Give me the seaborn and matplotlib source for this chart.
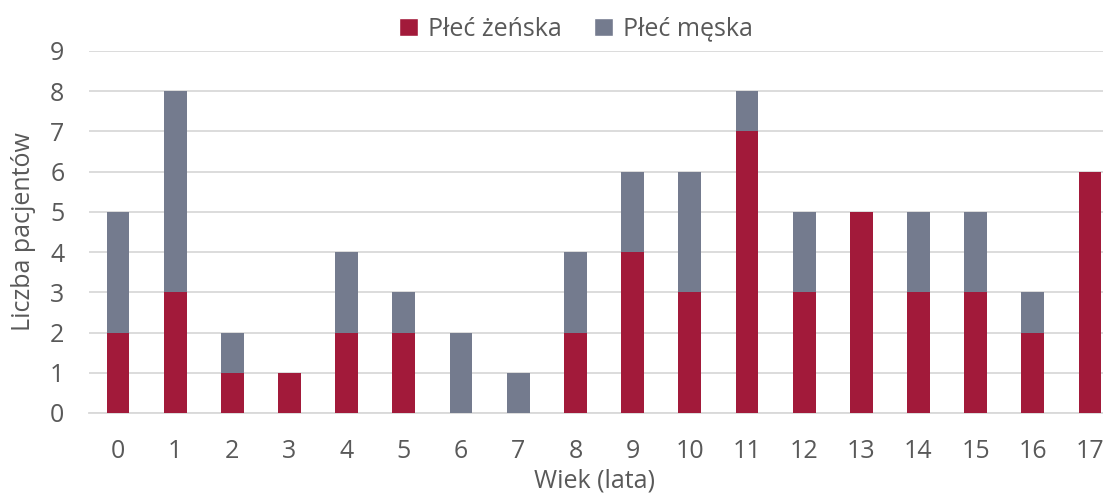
import matplotlib
matplotlib.use("Agg")
import matplotlib.pyplot as plt
import seaborn as sns
import pandas as pd
from matplotlib.patches import Patch

ages = [str(a) for a in range(18)]
female = [2, 3, 1, 1, 2, 2, 0, 0, 2, 4, 3, 7, 3, 5, 3, 3, 2, 6]
male = [3, 5, 1, 0, 2, 1, 2, 1, 2, 2, 3, 1, 2, 0, 2, 2, 1, 0]
yticks = list(range(10))

c_f = "#A21A3A"
c_m = "#747B8E"
txt = "#595959"
grid = "#D9D9D9"
fs = 18

sns.set_theme(style="white")
plt.rcParams["font.family"] = ["Open Sans", "DejaVu Sans"]

df = pd.DataFrame({"age": ages, "female": female, "male": male})
df["total"] = df["female"] + df["male"]

fig = plt.figure(figsize=(11.03, 4.94), dpi=100)
ax = fig.add_axes([89.4 / 1103, 1 - 413 / 494, (1118.6 - 89.4) / 1103, (413 - 51) / 494])

sns.barplot(data=df, x="age", y="total", color=c_m, width=0.4, saturation=1, ax=ax,
            zorder=3, linewidth=0)
sns.barplot(data=df, x="age", y="female", color=c_f, width=0.4, saturation=1, ax=ax,
            zorder=3, linewidth=0)

ax.set_ylim(0, 9)
ax.set_xlim(-0.5, 17.5)
ax.set_yticks(yticks)
ax.yaxis.grid(True, color=grid, linewidth=1.3, zorder=0)
ax.set_axisbelow(True)
for s in ["top", "right", "left"]:
    ax.spines[s].set_visible(False)
ax.spines["bottom"].set_color(grid)
ax.spines["bottom"].set_linewidth(1.3)

ax.set_xticks([i - 0.5 for i in range(19)], minor=False)
ax.set_xticklabels([])
ax.set_xticks(range(18), minor=True)
ax.set_xticklabels(ages, minor=True)
ax.tick_params(axis="x", which="major", length=8, width=1.3, color=grid, direction="out")
ax.tick_params(axis="x", which="minor", length=0, pad=19, labelsize=fs, labelcolor=txt)
ax.tick_params(axis="y", length=0, pad=18, labelsize=fs, labelcolor=txt)

ax.set_xlabel("Wiek (lata)", fontsize=fs, color=txt)
ax.xaxis.label.set_va("baseline")
ax.xaxis.set_label_coords((595 - 89.4) / (1118.6 - 89.4), (413 - 487) / (413 - 51))
ax.set_ylabel("Liczba pacjentów", fontsize=fs, color=txt, labelpad=10)

handles = [Patch(facecolor=c_f, label="Płeć żeńska"), Patch(facecolor=c_m, label="Płeć męska")]
fig.legend(handles=handles, loc="center", bbox_to_anchor=(0.522, 1 - 29 / 494), ncol=2,
           frameon=False, fontsize=fs, labelcolor=txt, handlelength=0.75, handleheight=0.75,
           handletextpad=0.4, columnspacing=1.3)

fig.savefig("out.png", dpi=100)
